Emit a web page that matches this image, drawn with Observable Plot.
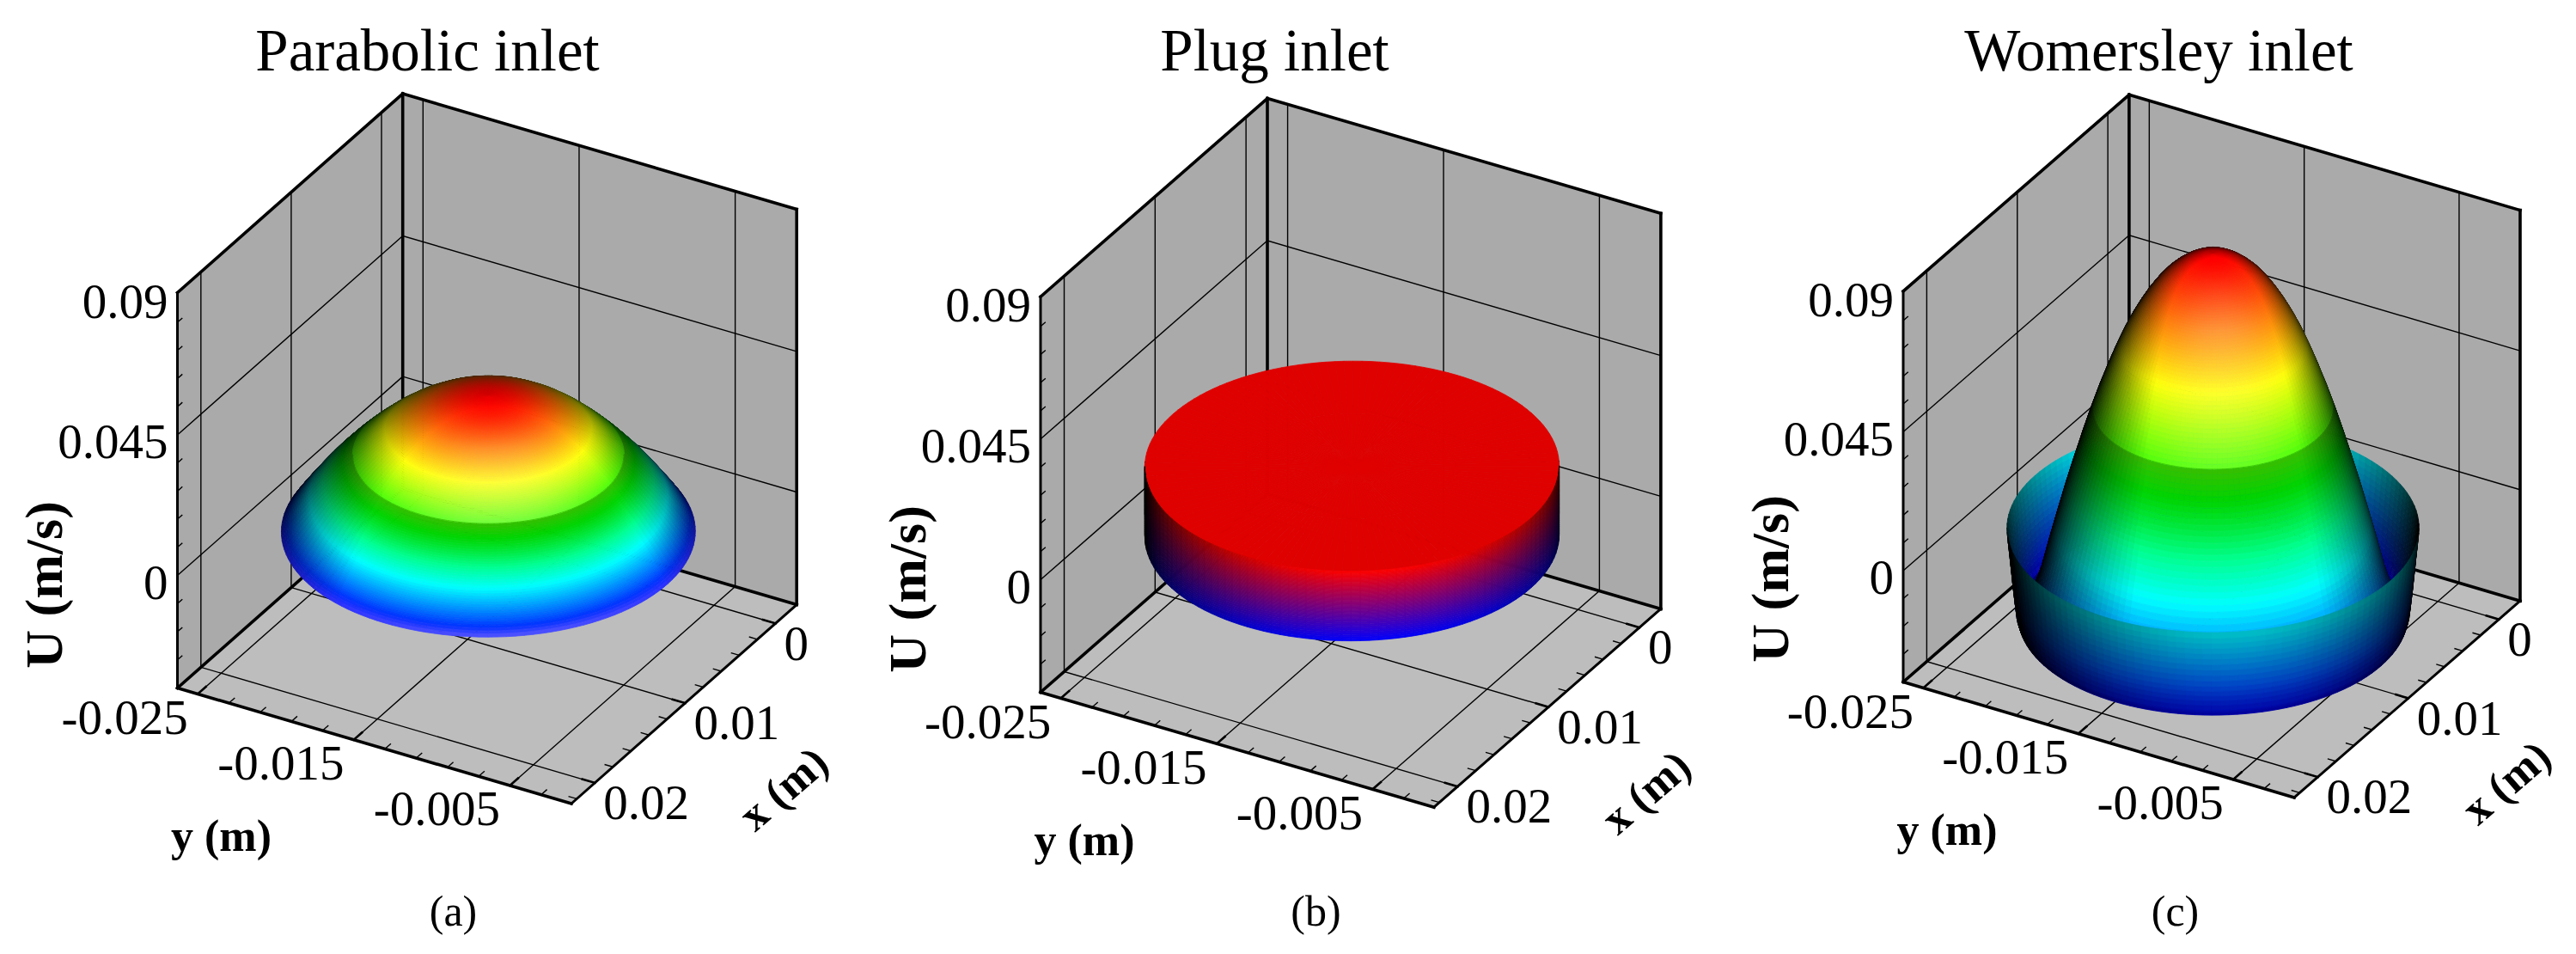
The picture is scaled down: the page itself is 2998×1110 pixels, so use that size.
<!DOCTYPE html>
<html>
<head>
<meta charset="utf-8">
<style>html,body{margin:0;padding:0;background:#fff}svg{display:block}</style>
<script src="https://cdn.jsdelivr.net/npm/d3@7"></script>
<script src="https://cdn.jsdelivr.net/npm/@observablehq/plot@0.6"></script>
</head>
<body>
<div id="chart"></div>
<script>
// ---- values ----
const titles = ["Parabolic inlet", "Plug inlet", "Womersley inlet"];
const captions = ["(a)", "(b)", "(c)"];
const uTicks = [0.09, 0.045, 0];
const uTickLabels = ["0.09", "0.045", "0"];
const xTicks = [0, 0.01, 0.02];
const xTickLabels = ["0", "0.01", "0.02"];
const yTicks = [-0.025, -0.015, -0.005];
const yTickLabels = ["-0.025", "-0.015", "-0.005"];
const uMinorTicks = [-0.027, -0.018, -0.009, 0.009, 0.018, 0.027, 0.036, 0.054, 0.063, 0.072, 0.081];
const xMinorTicks = [0.002, 0.004, 0.006, 0.008, 0.012, 0.014, 0.016, 0.018, 0.022];
const yMinorTicks = [-0.023, -0.021, -0.019, -0.017, -0.013, -0.011, -0.009, -0.007, -0.003];
const xRange = [-0.00235, 0.0226];
const yRange = [-0.0263, -0.00106];
const uRange = [-0.036, 0.0905];
const inletCentre = [0.0099, -0.0137];
const inletRadius = 0.01148;

// velocity profiles: fraction of radius -> U (m/s)
const parabolicR = [0,.04,.08,.12,.16,.2,.24,.28,.32,.36,.4,.44,.48,.52,.56,.6,.64,.68,.72,.76,.8,.84,.88,.92,.96,1];
const parabolicU = [.0432,.0431,.0429,.0426,.0421,.0415,.0407,.0398,.0388,.0376,.0363,.0348,.0333,.0315,.0297,.0276,.0255,.0232,.0208,.0182,.0156,.0127,.0097,.0066,.0034,0];
const plugR = [0,.5,1,1,1,1,1,1,1,1,1,1,1,1];
const plugU = [.0222,.0222,.0222,.0205,.0188,.0171,.0154,.0137,.012,.0103,.0085,.0068,.0034,0];
const womersleyR = [0,.04,.08,.12,.16,.2,.24,.28,.32,.36,.4,.44,.48,.52,.56,.6,.64,.68,.72,.76,.8,.84,.89,.92,.945,.955,.97,.985,1];
const womersleyU = [.0885,.0884,.0878,.0868,.0853,.0834,.0811,.0782,.0748,.0709,.0665,.0615,.0558,.0496,.043,.0358,.0281,.02,.0116,.0026,-.0066,-.0163,-.0255,-.0278,-.0285,-.0265,-.0184,-.009,0];

// rainbow colour stops of the contour map
const rainbowStops = [[0,0,255],[0,255,255],[0,255,0],[255,255,0],[255,0,0]];

// ---- view set-up (camera calibration for each box) ----
const views = [
  {BL:[206,800],    F:[664.5,934.5],  BR:[926.7,703],   TL:[206,340],     titleX:497,  capX:527,
   R:parabolicR, U:parabolicU, range:[0,.0432], bands:true, glow:true, gamma:1},
  {BL:[1210.5,805], F:[1668.4,938.7], BR:[1932.4,707.9],TL:[1210.5,344.8],titleX:1483, capX:1531,
   R:plugR, U:plugU, range:[0,.0222], twoColour:true, gamma:1},
  {BL:[2214.5,793], F:[2669.6,927.4], BR:[2932.5,698.7],TL:[2214.5,338.4],titleX:2512, capX:2531,
   R:womersleyR, U:womersleyU, range:[-.0285,.0885], bands:true, gamma:1.25, skirtGain:.88}
];
const project = (v, x, y, u) => {
  const a = (xRange[1]-x)/(xRange[1]-xRange[0]);
  const b = (y-yRange[0])/(yRange[1]-yRange[0]);
  const c = (u-uRange[0])/(uRange[1]-uRange[0]);
  return [0,1].map(k => v.BL[k] + a*(v.BR[k]-v.F[k]) + b*(v.F[k]-v.BL[k]) + c*(v.TL[k]-v.BL[k]));
};

// ---- surface shading ----
const L = [0.08, 0.2, 0.976];
const bandEdge = .57;
const rainbow = t => {
  const p = Math.max(0, Math.min(0.9999, t))*4, i = Math.floor(p), f = p-i;
  return rainbowStops[i].map((c,k) => c + (rainbowStops[i+1][k]-c)*f);
};
function shade(v, t, n, skirt) {
  let c = v.twoColour ? [255*t, 0, 255*(1-t)] : rainbow(t);
  const nl = Math.max(0, n[0]*L[0]+n[1]*L[1]+n[2]*L[2]);
  let I = Math.pow(Math.min(1, 1.32*nl), v.gamma);
  if (v.bands && t > .36 && t <= bandEdge) I *= 1 - .25*(t-.36)/(bandEdge-.36);
  if (skirt && v.skirtGain) I *= v.skirtGain;
  c = c.map(x => x*I);
  if (v.bands && t > bandEdge) {
    const h = .24*Math.pow(nl,6)*(t > .88 ? Math.max(0,(1-t)/.12) : 1);
    c = c.map(x => x + (255-x)*h);
  }
  if (v.glow && t < .05) { const h = .35*(1-t/.05)*nl*nl; c = c.map(x => x + (255-x)*h); }
  return `rgb(${c.map(x => Math.round(x)).join(",")})`;
}

function surfacePatches(v, idx) {
  const cx = inletCentre[0], cy = inletCentre[1], Rr = inletRadius;
  const zero = project(v, cx, cy, 0);
  const N = v.R.length - 1, steps = 144, patches = [];
  const segN = d3.range(N).map(i => {
    const ds = (v.R[i+1]-v.R[i])*240, du = (v.U[i+1]-v.U[i])*3650/.866, l = Math.hypot(ds,du) || 1;
    return [-du/l, ds/l];
  });
  const nodeN = (i, seg) => {
    const o = i === seg ? segN[i-1] : segN[i];
    if (!o) return segN[seg];
    const me = segN[seg];
    if (me[0]*o[0]+me[1]*o[1] < .6) return me;
    const m = [me[0]+o[0], me[1]+o[1]], l = Math.hypot(m[0],m[1]);
    return [m[0]/l, m[1]/l];
  };
  const pt = (s,u,phi) => project(v, cx+Rr*s*Math.cos(phi), cy+Rr*s*Math.sin(phi), u);
  for (let i = 0; i < N; i++) {
    const n0 = nodeN(i,i), n1 = nodeN(i+1,i);
    const skirt = v.U[i+1] > v.U[i] && v.R[i+1] > v.R[i];
    const flat = v.U[i+1] === v.U[i];
    const sub = flat ? 1 : 5;
    for (let k = 0; k < sub; k++) {
      const f0 = k/sub, f1 = (k+1)/sub, fm = (f0+f1)/2;
      const s0 = v.R[i]+(v.R[i+1]-v.R[i])*f0, s1 = v.R[i]+(v.R[i+1]-v.R[i])*f1;
      const u0 = v.U[i]+(v.U[i+1]-v.U[i])*f0, u1 = v.U[i]+(v.U[i+1]-v.U[i])*f1;
      const um = (u0+u1)/2;
      const nr = n0[0]+(n1[0]-n0[0])*fm, nu = n0[1]+(n1[1]-n0[1])*fm;
      const t = (um-v.range[0])/(v.range[1]-v.range[0]);
      for (let j = 0; j < steps; j++) {
        const a0 = j/steps*2*Math.PI, a1 = (j+1)/steps*2*Math.PI, am = (a0+a1)/2;
        const e = project(v, cx+Rr*Math.cos(am), cy+Rr*Math.sin(am), 0);
        const right = (e[0]-zero[0])/240, fwd = (e[1]-zero[1])/120;
        const n = [nr*right, -.5*nr*fwd + .866*nu, .866*nr*fwd + .5*nu];
        const l = Math.hypot(...n) || 1; n[0]/=l; n[1]/=l; n[2]/=l;
        let outer = false;
        if (n[2] < -.03) {
          if (!skirt) continue;
          n[0]=-n[0]; n[1]=-n[1]; n[2]=-n[2];
          outer = true;
        }
        const sm = (s0+s1)/2;
        const A = pt(s0,u0,a0), B = pt(s0,u0,a1), C = pt(s1,u1,a0), D = pt(s1,u1,a1);
        patches.push({id:`${idx}-${i}-${k}-${j}`, A, B, C, D, depth: sm*fwd, lift: um, fill: shade(v,t,n,outer)});
      }
    }
  }
  // far columns first, lower before higher within a column
  patches.sort((p,q) => (p.depth-q.depth) || (p.lift-q.lift));
  const rows = [];
  for (const p of patches) {
    rows.push({id:p.id, x1:p.A[0], y1:p.A[1], x2:p.B[0], y2:p.B[1], fill:p.fill});
    rows.push({id:p.id, x1:p.C[0], y1:p.C[1], x2:p.D[0], y2:p.D[1], fill:p.fill});
  }
  return rows;
}

// ---- box, grid, ticks ----
const wallRows = [], floorRows = [], thick = [], medium = [], grid = [], ticks = [], majorTicks = [];
const uLabels = [], xLabels = [], yLabels = [], titleRows = [], capRows = [], uTitle = [], xTitle = [], yTitle = [];
const [x0,x1] = xRange, [y0,y1] = yRange, [u0,u1] = uRange;
const seg = (store, id, v, a, b) => {
  const p = project(v,...a), q = project(v,...b);
  store.push({id, x:p[0], y:p[1]}, {id, x:q[0], y:q[1]});
};
const quad = (store, id, v, a, b, c, d) => {
  const A = project(v,...a), B = project(v,...b), C = project(v,...c), D = project(v,...d);
  store.push({id, x1:A[0], y1:A[1], x2:B[0], y2:B[1]}, {id, x1:D[0], y1:D[1], x2:C[0], y2:C[1]});
};
views.forEach((v,i) => {
  quad(wallRows, `l${i}`, v, [x1,y0,u0],[x1,y0,u1],[x0,y0,u1],[x0,y0,u0]);
  quad(wallRows, `b${i}`, v, [x0,y0,u0],[x0,y0,u1],[x0,y1,u1],[x0,y1,u0]);
  quad(floorRows,`f${i}`, v, [x1,y0,u0],[x0,y0,u0],[x0,y1,u0],[x1,y1,u0]);
  [[[x1,y0,u1],[x0,y0,u1]],[[x0,y0,u1],[x0,y1,u1]],[[x0,y0,u0],[x0,y0,u1]],[[x0,y1,u0],[x0,y1,u1]],
   [[x1,y0,u0],[x0,y0,u0]],[[x0,y0,u0],[x0,y1,u0]],[[x1,y0,u0],[x1,y1,u0]]]
   .forEach((e,k) => seg(thick, `t${i}-${k}`, v, e[0], e[1]));
  [[[x1,y0,u0],[x1,y0,u1]],[[x1,y1,u0],[x0,y1,u0]]].forEach((e,k) => seg(medium, `m${i}-${k}`, v, e[0], e[1]));
  xTicks.forEach((x,k) => {
    seg(grid,`gx${i}-${k}a`,v,[x,y0,u0],[x,y1,u0]);
    seg(grid,`gx${i}-${k}b`,v,[x,y0,u0],[x,y0,u1]);
    seg(majorTicks,`mx${i}-${k}`,v,[x,y1,u0],[x,y1-.0008,u0]);
    const p = project(v,x,y1,u0); xLabels.push({x:p[0]+10, y:p[1]+24, text:xTickLabels[k]});
  });
  yTicks.forEach((y,k) => {
    seg(grid,`gy${i}-${k}a`,v,[x0,y,u0],[x1,y,u0]);
    seg(grid,`gy${i}-${k}b`,v,[x0,y,u0],[x0,y,u1]);
    seg(majorTicks,`my${i}-${k}`,v,[x1,y,u0],[x1-.0009,y,u0]);
    const p = project(v,x1,y,u0); yLabels.push({x:p[0]-85, y:p[1]+28, text:yTickLabels[k]});
  });
  uTicks.forEach((u,k) => {
    if (u !== 0.09) {
      seg(grid,`gu${i}-${k}a`,v,[x1,y0,u],[x0,y0,u]);
      seg(grid,`gu${i}-${k}b`,v,[x0,y0,u],[x0,y1,u]);
    }
    const p = project(v,x1,y0,u); uLabels.push({x:p[0]-11, y:p[1]+9, text:uTickLabels[k]});
  });
  uMinorTicks.forEach((u,k) => seg(ticks,`nu${i}-${k}`,v,[x1,y0,u],[x1-.0005,y0,u]));
  xMinorTicks.forEach((x,k) => seg(ticks,`nx${i}-${k}`,v,[x,y1,u0],[x,y1-.0005,u0]));
  yMinorTicks.forEach((y,k) => seg(ticks,`ny${i}-${k}`,v,[x1,y,u0],[x1-.0006,y,u0]));
  titleRows.push({x:v.titleX, y:59, text:titles[i]});
  capRows.push({x:v.capX, y:1060, text:captions[i]});
  const o = project(v,x1,y0,u0), f = project(v,x1,y1,u0);
  uTitle.push({x:o[0]-154, y:o[1]-120, text:"U (m/s)"});
  yTitle.push({x:o[0]+51, y:o[1]+173, text:"y (m)"});
  xTitle.push({x:f[0]+247, y:f[1]-17, text:"x (m)"});
});

const serif = "'Liberation Serif','Times New Roman',serif";
const surfaceMarks = views.map((v,i) => {
  const rows = surfacePatches(v,i);
  return Plot.area(rows, {x1:"x1", y1:"y1", x2:"x2", y2:"y2", z:"id", fill:"fill", stroke:"fill", strokeWidth:0.8});
});
const lineMark = (rows, w) => Plot.line(rows, {x:"x", y:"y", z:"id", stroke:"#000", strokeWidth:w, strokeLinecap:"square"});
const textMark = (rows, opts) => Plot.text(rows, {x:"x", y:"y", text:"text", fill:"#000", fontFamily:serif, lineAnchor:"middle", ...opts});

const chart = Plot.plot({
  width:2998, height:1110, margin:0,
  x:{domain:[0,2998], range:[0,2998], axis:null},
  y:{domain:[0,1110], range:[0,1110], axis:null},
  color:{type:"identity"},
  style:{background:"#fff"},
  marks:[
    Plot.area(wallRows, {x1:"x1", y1:"y1", x2:"x2", y2:"y2", z:"id", fill:"#aaaaaa"}),
    Plot.area(floorRows,{x1:"x1", y1:"y1", x2:"x2", y2:"y2", z:"id", fill:"#bdbdbd"}),
    lineMark(grid, 1.4),
    lineMark(ticks, 1.4),
    lineMark(majorTicks, 2.6),
    lineMark(medium, 3),
    lineMark(thick, 3.6),
    ...surfaceMarks,
    textMark(titleRows, {fontSize:69}),
    textMark(capRows, {fontSize:50}),
    textMark(uLabels, {fontSize:57, textAnchor:"end"}),
    textMark(xLabels, {fontSize:57, textAnchor:"start"}),
    textMark(yLabels, {fontSize:57}),
    textMark(uTitle, {fontSize:62, fontWeight:"bold", rotate:-90}),
    textMark(yTitle, {fontSize:52, fontWeight:"bold"}),
    textMark(xTitle, {fontSize:52, fontWeight:"bold", rotate:-41})
  ]
});
document.getElementById("chart").appendChild(chart);
</script>
</body>
</html>
